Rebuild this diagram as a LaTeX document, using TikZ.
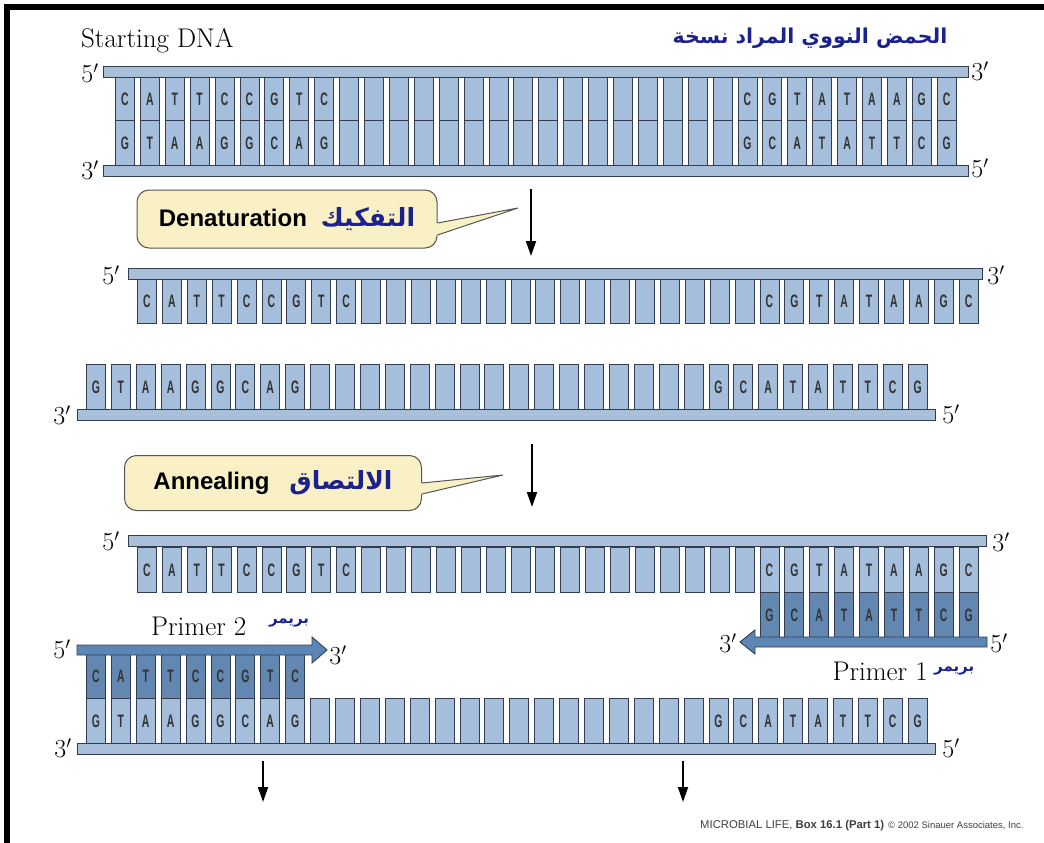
\documentclass[tikz,border=0pt]{standalone}
\usepackage{fontspec}
\usetikzlibrary{arrows.meta}
\TeXXeTstate=1
\newfontfamily\arabicfont[Script=Arabic]{DejaVu Sans}
\newfontfamily\sansf{Liberation Sans}
\definecolor{basefill}{RGB}{164,190,220}
\definecolor{bbfill}{RGB}{170,192,218}
\definecolor{outl}{RGB}{50,62,80}
\definecolor{primerfill}{RGB}{98,136,178}
\definecolor{primerarrow}{RGB}{92,134,182}
\definecolor{calloutfill}{RGB}{250,240,198}
\definecolor{calloutline}{RGB}{85,85,85}
\definecolor{navy}{RGB}{28,34,140}
\newcommand\basefnt{\sansf\bfseries\fontsize{18}{18}\selectfont}
\newcommand\bl[1]{\scalebox{0.58}[1]{#1}}
\newcommand\baserun[7]{%
  \foreach \l [count=\i from #6] in {#7} {%
    \node[base,fill=#5,minimum height=#4pt] (#1-\i) at ({#2+24.9*\i},#3) {\bl{\l}};}}
\newcommand\blankrunb[7]{%
  \foreach \i in {#6,...,#7} {%
    \node[base,fill=#5,minimum height=#4pt] (#1-\i) at ({#2+24.9*\i},#3) {};}}
\begin{document}
\begin{tikzpicture}[x=1pt,y=-1pt,
  base/.style={draw=outl,line width=0.9pt,inner sep=0pt,minimum width=19pt,anchor=north west,font=\basefnt,text=black!80},
  backbone/.style={draw=outl,fill=bbfill,line width=0.9pt,inner sep=0pt,anchor=north west,minimum height=11pt},
  plab/.style={font=\fontsize{26}{26}\selectfont,inner sep=0pt},
  callout/.style={draw=calloutline,fill=calloutfill,rounded corners=12pt,line width=1pt,inner sep=0pt},
  down/.style={-{Triangle[length=15pt,width=10pt]},line width=1.8pt},
  primerbody/.style={draw=outl,fill=primerarrow,line width=0.9pt,line join=miter},
  arlab/.style={font=\arabicfont\bfseries\fontsize{15}{15}\selectfont,text=navy,inner sep=0pt}]
\useasboundingbox (0,0) rectangle (1044,843);
\fill[white] (0,0) rectangle (1044,843);
\draw[line width=6pt] (7,860) -- (7,7) -- (1060,7);

% ---------- titles ----------
\node[plab,anchor=west,font=\fontsize{27}{27}\selectfont] (title) at (81,41) {Starting DNA};
\node[font=\arabicfont\bfseries\fontsize{20.5}{21}\selectfont,text=navy,inner sep=0pt] (artitle) at (810,38) {\beginR الحمض النووي المراد نسخة\endR};

% ---------- starting DNA ----------
\baserun{st}{115}{77}{43}{basefill}{0}{C,A,T,T,C,C,G,T,C}
\blankrunb{st}{115}{77}{43}{basefill}{9}{24}
\baserun{st}{115}{77}{43}{basefill}{25}{C,G,T,A,T,A,A,G,C}
\baserun{sb}{115}{120}{45}{basefill}{0}{G,T,A,A,G,G,C,A,G}
\blankrunb{sb}{115}{120}{45}{basefill}{9}{24}
\baserun{sb}{115}{120}{45}{basefill}{25}{G,C,A,T,A,T,T,C,G}
\node[backbone,minimum width=865pt] (sbb1) at (103,66) {};
\node[backbone,minimum width=865pt] (sbb2) at (103,165) {};
\node[plab] (l1) at (90,73) {5$'$};
\node[plab] (l2) at (90,170) {3$'$};
\node[plab] (l3) at (980,71) {3$'$};
\node[plab] (l4) at (980,168) {5$'$};

% ---------- denaturation ----------
\coordinate (d1a) at (531,189);
\coordinate (d1b) at (531,256);
\draw[down] (d1a) -- (d1b);
\node[callout,minimum width=300pt,minimum height=58pt] (cb1) at (287,219)
  {\sansf\bfseries\fontsize{24}{24}\selectfont Denaturation\hspace{14pt}{\arabicfont\bfseries\fontsize{25}{25}\selectfont\color{navy}\beginR التفكيك\endR}};
\coordinate (tip1) at (518,208);
\fill[calloutfill] ([yshift=-4pt]cb1.east) -- (tip1) -- ([yshift=-16pt]cb1.east) -- ([xshift=-3pt,yshift=-16pt]cb1.east) -- ([xshift=-3pt,yshift=-4pt]cb1.east) -- cycle;
\draw[calloutline,line width=1pt] ([yshift=-4pt]cb1.east) -- (tip1) -- ([yshift=-16pt]cb1.east);

% ---------- denatured strands ----------
\baserun{da}{137}{279}{44}{basefill}{0}{C,A,T,T,C,C,G,T,C}
\blankrunb{da}{137}{279}{44}{basefill}{9}{24}
\baserun{da}{137}{279}{44}{basefill}{25}{C,G,T,A,T,A,A,G,C}
\node[backbone,minimum width=854pt] (dbb1) at (128,268) {};
\node[plab] (l5) at (111,275) {5$'$};
\node[plab] (l6) at (996,275) {3$'$};

\baserun{db}{86}{364}{45}{basefill}{0}{G,T,A,A,G,G,C,A,G}
\blankrunb{db}{86}{364}{45}{basefill}{9}{24}
\baserun{db}{86}{364}{45}{basefill}{25}{G,C,A,T,A,T,T,C,G}
\node[backbone,minimum width=858pt] (dbb2) at (77,409) {};
\node[plab] (l7) at (62,415) {3$'$};
\node[plab] (l8) at (951,414) {5$'$};

% ---------- annealing ----------
\coordinate (d2a) at (532,444);
\coordinate (d2b) at (532,507);
\draw[down] (d2a) -- (d2b);
\node[callout,minimum width=297pt,minimum height=55pt] (cb2) at (273,483)
  {\sansf\bfseries\fontsize{24}{24}\selectfont Annealing\hspace{20pt}{\arabicfont\bfseries\fontsize{25}{25}\selectfont\color{navy}\beginR الالتصاق\endR}\hspace{12pt}};
\coordinate (tip2) at (503,475);
\fill[calloutfill] ([yshift=0pt]cb2.east) -- (tip2) -- ([yshift=-11pt]cb2.east) -- ([xshift=-3pt,yshift=-11pt]cb2.east) -- ([xshift=-3pt,yshift=0pt]cb2.east) -- cycle;
\draw[calloutline,line width=1pt] ([yshift=0pt]cb2.east) -- (tip2) -- ([yshift=-11pt]cb2.east);

% ---------- annealed top strand with primer 1 ----------
\baserun{aa}{137}{547}{45}{basefill}{0}{C,A,T,T,C,C,G,T,C}
\blankrunb{aa}{137}{547}{45}{basefill}{9}{24}
\baserun{aa}{137}{547}{45}{basefill}{25}{C,G,T,A,T,A,A,G,C}
\baserun{pa}{137}{592}{45}{primerfill}{25}{G,C,A,T,A,T,T,C,G}
\node[backbone,minimum width=858pt] (abb1) at (128,535) {};
\draw[primerbody] (987,637) -- (755,637) -- (755,630) -- (740,642) -- (755,654) -- (755,647) -- (987,647) -- cycle;
\node[plab] (l9) at (111,541) {5$'$};
\node[plab] (l10) at (1001,542) {3$'$};
\node[plab] (l11) at (728,643) {3$'$};
\node[plab] (l12) at (999,643) {5$'$};
\node[plab,anchor=east,font=\fontsize{27}{27}\selectfont] (pr1) at (928,671) {Primer 1};
\node[arlab,anchor=west] (pr1ar) at (934,671) {\beginR بريمر\endR};

% ---------- annealed bottom strand with primer 2 ----------
\baserun{pb}{86}{654}{44}{primerfill}{0}{C,A,T,T,C,C,G,T,C}
\baserun{ab}{86}{698}{45}{basefill}{0}{G,T,A,A,G,G,C,A,G}
\blankrunb{ab}{86}{698}{45}{basefill}{9}{24}
\baserun{ab}{86}{698}{45}{basefill}{25}{G,C,A,T,A,T,T,C,G}
\node[backbone,minimum width=858pt] (abb2) at (77,743) {};
\draw[primerbody] (77,645) -- (312,645) -- (312,637) -- (327,650) -- (312,663) -- (312,655) -- (77,655) -- cycle;
\node[plab] (l13) at (62,649) {5$'$};
\node[plab] (l14) at (338,655) {3$'$};
\node[plab] (l15) at (63,748) {3$'$};
\node[plab] (l16) at (951,748) {5$'$};
\node[plab,anchor=west,font=\fontsize{27}{27}\selectfont] (pr2) at (151,626) {Primer 2};
\node[arlab] (pr2ar) at (289,623) {\beginR بريمر\endR};

% ---------- next-step arrows ----------
\coordinate (d3a) at (263,761);
\coordinate (d3b) at (263,802);
\draw[down] (d3a) -- (d3b);
\coordinate (d4a) at (683,761);
\coordinate (d4b) at (683,802);
\draw[down] (d4a) -- (d4b);

% ---------- credit ----------
\node[anchor=west,inner sep=0pt,text=black!75,font=\sansf\fontsize{11.3}{12}\selectfont] (credit) at (700,826)
  {MICROBIAL LIFE, \textbf{Box 16.1 (Part 1)}\hspace{4pt}{\fontsize{9.5}{10}\selectfont © 2002 Sinauer Associates, Inc.}};
\end{tikzpicture}
\end{document}
